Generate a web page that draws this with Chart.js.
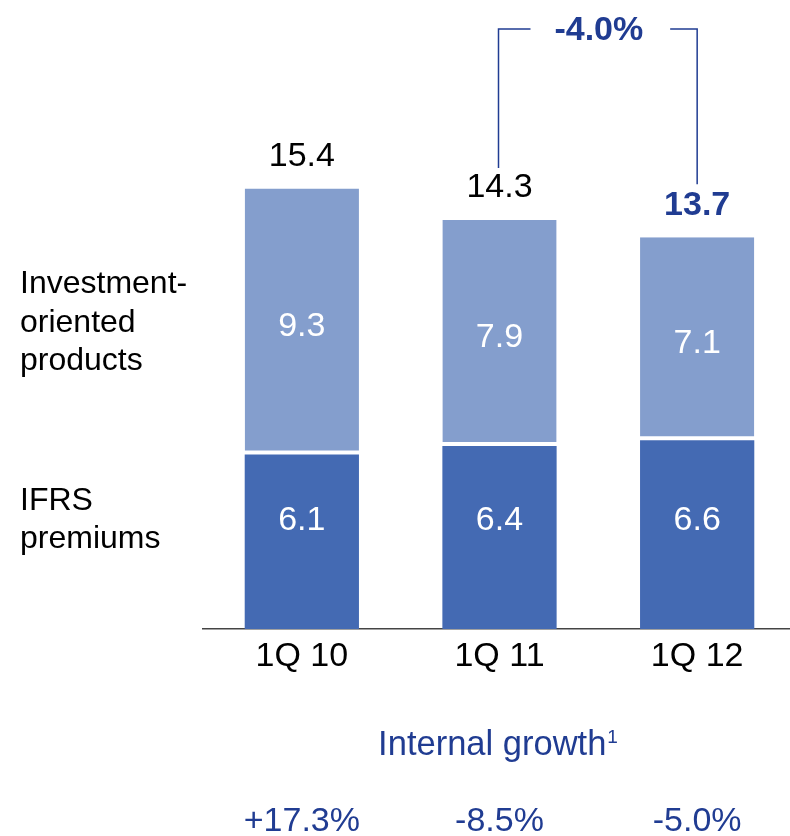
<!DOCTYPE html>
<html>
<head>
<meta charset="utf-8">
<script src="https://cdn.jsdelivr.net/npm/chart.js@4/dist/chart.umd.min.js"></script>
<style>
  html, body { margin: 0; padding: 0; background: #fff; overflow: hidden; }
  #wrap { width: 790px; height: 836px; overflow: hidden; position: relative; }
</style>
</head>
<body>
<div id="wrap"><canvas id="c" width="800" height="836"></canvas></div>
<script>
// Gross premiums written by quarter (EUR bn)
const categories = ['1Q 10', '1Q 11', '1Q 12'];
const ifrsPremiums = [6.1, 6.4, 6.6];
const investmentProducts = [9.3, 7.9, 7.1];
const totals = [15.4, 14.3, 13.7];
const internalGrowth = ['+17.3%', '-8.5%', '-5.0%'];
const changeLabel = '-4.0%';
const ifrsName = ['IFRS', 'premiums'];
const investmentName = ['Investment-', 'oriented', 'products'];

const FONT = "'Liberation Sans', Arial, Helvetica, sans-serif";
const NAVY = '#203c92';
const DARK_BAR = '#446ab3';
const LIGHT_BAR = '#849ecd';

const labelsPlugin = {
  id: 'labels',
  afterDraw(chart) {
    const ctx = chart.ctx;
    const xs = chart.scales.x;
    const ys = chart.scales.y;
    const area = chart.chartArea;
    ctx.save();
    ctx.textAlign = 'center';
    ctx.textBaseline = 'middle';

    categories.forEach((cat, i) => {
      const x = xs.getPixelForValue(i);
      const yBase = ys.getPixelForValue(ifrsPremiums[i]);
      const yTop = ys.getPixelForValue(totals[i]);

      // values inside the segments
      ctx.fillStyle = '#ffffff';
      ctx.font = `34px ${FONT}`;
      ctx.fillText(ifrsPremiums[i].toFixed(1), x, ys.getPixelForValue(3.8));
      ctx.fillText(investmentProducts[i].toFixed(1), x, (yBase + yTop) / 2 + 5);

      // totals above the bars, latest quarter highlighted
      const last = i === categories.length - 1;
      ctx.fillStyle = last ? NAVY : '#000000';
      ctx.font = `${last ? 'bold ' : ''}34px ${FONT}`;
      ctx.fillText(totals[i].toFixed(1), x, yTop - 32);

      // category labels
      ctx.fillStyle = '#000000';
      ctx.font = `34px ${FONT}`;
      ctx.fillText(cat, x, area.bottom + 28);

      // internal growth figures
      ctx.fillStyle = NAVY;
      ctx.font = `34px ${FONT}`;
      ctx.fillText(internalGrowth[i], x, 822);
    });

    // "Internal growth" heading with footnote marker
    ctx.font = `34.5px ${FONT}`;
    const head = 'Internal growth';
    const wHead = ctx.measureText(head).width;
    ctx.font = `19px ${FONT}`;
    const wSup = ctx.measureText('1').width;
    const cx = xs.getPixelForValue(1) - 2;
    const startX = cx - (wHead + wSup) / 2;
    ctx.textAlign = 'left';
    ctx.textBaseline = 'alphabetic';
    ctx.fillStyle = NAVY;
    ctx.font = `34.5px ${FONT}`;
    ctx.fillText(head, startX, 755);
    ctx.font = `19px ${FONT}`;
    ctx.fillText('1', startX + wHead + 1, 743);

    // series names at the left
    ctx.fillStyle = '#000000';
    ctx.font = `32px ${FONT}`;
    investmentName.forEach((t, k) => ctx.fillText(t, 20, 293 + k * 38.5));
    ifrsName.forEach((t, k) => ctx.fillText(t, 20, 510 + k * 37.5));

    // bracket showing change from 1Q 11 to 1Q 12
    const x1 = xs.getPixelForValue(1) - 1;
    const x2 = xs.getPixelForValue(2);
    const yBr = 29;
    ctx.strokeStyle = NAVY;
    ctx.lineWidth = 1.5;
    ctx.beginPath();
    ctx.moveTo(x1, ys.getPixelForValue(totals[1]) - 52);
    ctx.lineTo(x1, yBr);
    ctx.lineTo(x1 + 32, yBr);
    ctx.moveTo(x2 - 27, yBr);
    ctx.lineTo(x2, yBr);
    ctx.lineTo(x2, ys.getPixelForValue(totals[2]) - 53);
    ctx.stroke();

    ctx.textAlign = 'center';
    ctx.textBaseline = 'middle';
    ctx.fillStyle = NAVY;
    ctx.font = `bold 34px ${FONT}`;
    ctx.fillText(changeLabel, (x1 + x2) / 2 + 1, yBr + 2);

    ctx.restore();
  }
};

new Chart(document.getElementById('c'), {
  type: 'bar',
  data: {
    labels: categories,
    datasets: [
      {
        label: ifrsName.join(' '),
        data: ifrsPremiums,
        backgroundColor: DARK_BAR,
        borderWidth: 0
      },
      {
        label: investmentName.join(' '),
        data: investmentProducts,
        backgroundColor: LIGHT_BAR,
        borderColor: '#ffffff',
        borderSkipped: false,
        borderWidth: { top: 0, left: 0, right: 0, bottom: 4 }
      }
    ]
  },
  options: {
    responsive: false,
    animation: false,
    events: [],
    layout: { padding: { left: 203, right: 4, top: 57, bottom: 207 } },
    datasets: { bar: { categoryPercentage: 1, barPercentage: 0.578 } },
    plugins: { legend: { display: false }, tooltip: { enabled: false } },
    scales: {
      x: {
        stacked: true,
        z: 1,
        grid: { display: false, drawTicks: false },
        ticks: { display: false },
        border: { display: true, color: '#444444', width: 1.5 }
      },
      y: {
        stacked: true,
        display: false,
        min: 0,
        max: 20
      }
    }
  },
  plugins: [labelsPlugin]
});
</script>
</body>
</html>
